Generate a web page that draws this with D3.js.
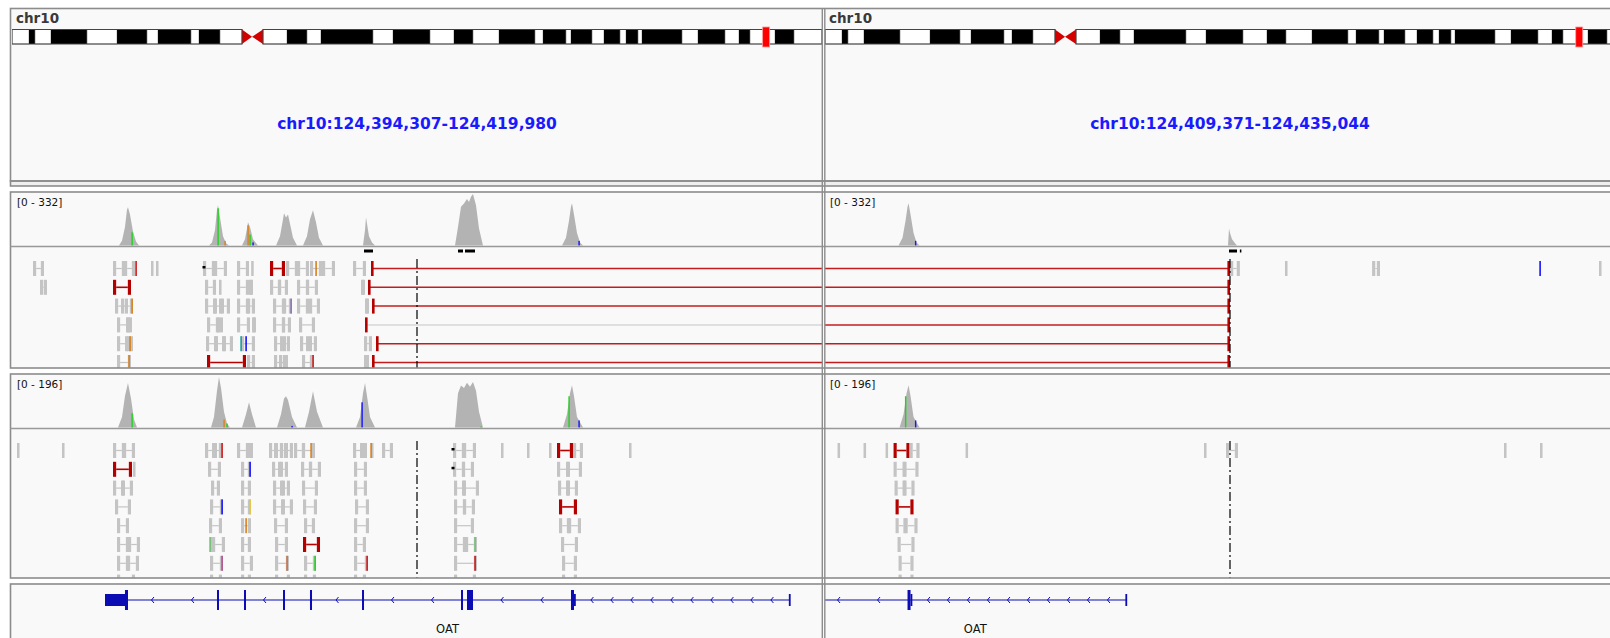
<!DOCTYPE html>
<html>
<head>
<meta charset="utf-8">
<script src="https://cdn.jsdelivr.net/npm/d3@7"></script>
<style>
  html, body { margin: 0; padding: 0; background: #fff; }
  svg { display: block; font-family: "DejaVu Sans", sans-serif; }
</style>
</head>
<body>
<svg id="igv" width="1610" height="638"></svg>
<script>
// all genomic positions below are kb past chr10:124,390,000
const chromName = "chr10";
const chromLengthMb = 133.8;
const locusLabels = ["chr10:124,394,307-124,419,980", "chr10:124,409,371-124,435,044"];
const locusStarts = [4.307, 19.371];
const locusEnds = [29.980, 45.044];

// ideogram bands [startMb, endMb, stain]
const ideoBands = [
  [0, 2.81, "gneg"], [2.81, 3.80, "gpos"], [3.80, 6.44, "gneg"], [6.44, 12.39, "gpos"],
  [12.39, 17.35, "gneg"], [17.35, 22.30, "gpos"], [22.30, 24.12, "gneg"], [24.12, 29.57, "gpos"],
  [29.57, 30.89, "gneg"], [30.89, 34.36, "gpos"], [34.36, 37.99, "gneg"], [37.99, 39.65, "acen"],
  [39.65, 41.46, "acen"], [41.46, 45.43, "gneg"], [45.43, 48.73, "gpos"], [48.73, 51.04, "gneg"],
  [51.04, 59.63, "gpos"], [59.63, 62.94, "gneg"], [62.94, 69.05, "gpos"], [69.05, 73.01, "gneg"],
  [73.01, 76.15, "gpos"], [76.15, 80.45, "gneg"], [80.45, 86.39, "gpos"], [86.39, 87.72, "gneg"],
  [87.72, 91.51, "gpos"], [91.51, 92.34, "gneg"], [92.34, 95.81, "gpos"], [95.81, 97.79, "gneg"],
  [97.79, 100.44, "gpos"], [100.44, 101.43, "gneg"], [101.43, 103.41, "gpos"], [103.41, 104.07, "gneg"],
  [104.07, 110.68, "gpos"], [110.68, 113.32, "gneg"], [113.32, 117.78, "gpos"], [117.78, 120.09, "gneg"],
  [120.09, 121.91, "gpos"], [121.91, 126.04, "gneg"], [126.04, 129.18, "gpos"], [129.18, 133.80, "gneg"]
];

// coverage track 1, range [0 - 332]: [pos, depth]
const coverage1 = [
  [7.722, 0], [7.816, 30], [7.911, 120], [7.974, 230], [8.006, 247], [8.069, 200], [8.164, 90], [8.259, 25], [8.354, 0],
  [10.567, 0], [10.662, 20], [10.757, 100], [10.820, 230], [10.852, 260], [10.915, 180], [11.010, 60], [11.105, 15], [11.199, 0],
  [11.611, 0], [11.705, 40], [11.769, 110], [11.800, 150], [11.863, 120], [11.958, 40], [12.116, 0],
  [12.686, 0], [12.812, 60], [12.907, 170], [12.939, 208], [13.002, 180], [13.065, 200], [13.128, 140], [13.223, 50], [13.349, 0],
  [13.539, 0], [13.665, 60], [13.760, 170], [13.855, 228], [13.950, 150], [14.045, 50], [14.171, 0],
  [15.436, 0], [15.500, 100], [15.531, 182], [15.563, 140], [15.626, 60], [15.721, 20], [15.816, 0],
  [18.345, 0], [18.440, 120], [18.535, 250], [18.630, 270], [18.724, 300], [18.788, 280], [18.851, 315], [18.914, 332], [19.009, 260], [19.104, 110], [19.230, 0],
  [21.728, 0], [21.854, 50], [21.949, 160], [22.012, 250], [22.044, 273], [22.107, 200], [22.202, 80], [22.297, 20], [22.392, 0],
  [32.144, 0], [32.176, 110], [32.208, 80], [32.271, 40], [32.366, 15], [32.429, 0]
];
// coverage track 2, range [0 - 196]
const coverage2 = [
  [7.690, 0], [7.817, 40], [7.911, 120], [8.006, 169], [8.101, 110], [8.196, 30], [8.291, 0],
  [10.630, 0], [10.725, 40], [10.820, 140], [10.883, 192], [10.947, 150], [11.041, 60], [11.136, 15], [11.231, 0],
  [11.611, 0], [11.737, 50], [11.832, 96], [11.927, 50], [12.053, 0],
  [12.717, 0], [12.844, 50], [12.939, 110], [13.002, 119], [13.065, 105], [13.191, 40], [13.349, 0],
  [13.602, 0], [13.729, 60], [13.855, 138], [13.982, 60], [14.171, 0],
  [15.215, 0], [15.342, 40], [15.436, 130], [15.500, 169], [15.563, 120], [15.658, 40], [15.816, 0],
  [18.345, 0], [18.440, 130], [18.535, 160], [18.630, 150], [18.724, 170], [18.819, 155], [18.914, 173], [19.009, 140], [19.104, 60], [19.230, 0],
  [21.760, 0], [21.886, 50], [21.981, 130], [22.044, 161], [22.107, 120], [22.202, 40], [22.392, 0]
];
// coloured allele bars on the coverage: [pos, depth, base]
const alleles1 = [[8.133, 85, "A"], [10.852, 240, "A"], [11.073, 30, "G"], [11.800, 130, "G"], [11.863, 70, "A"], [11.958, 20, "C"], [22.265, 30, "C"]];
const alleles2 = [[8.133, 54, "A"], [11.041, 30, "G"], [11.136, 15, "A"], [13.191, 6, "C"], [15.405, 96, "C"], [19.167, 4, "A"], [21.949, 119, "A"], [22.265, 27, "C"]];

// read pairs [row, start, end, kind]  n = normal, r = large insert
const pairs1 = [
  [0, 5.003, 5.350, "n"], [0, 7.532, 7.911, "n"], [0, 7.880, 8.228, "n"], [0, 10.377, 10.757, "n"], [0, 10.725, 11.136, "n"],
  [0, 11.452, 11.832, "n"], [0, 12.496, 12.970, "r"], [0, 13.002, 13.381, "n"], [0, 13.349, 13.729, "n"], [0, 13.760, 14.140, "n"],
  [0, 14.140, 14.551, "n"], [0, 15.120, 15.531, "n"], [0, 32.210, 32.520, "n"], [0, 36.700, 36.950, "n"],
  [1, 5.224, 5.445, "n"], [1, 7.532, 8.101, "r"], [1, 10.441, 10.789, "n"], [1, 11.452, 11.832, "n"], [1, 11.832, 11.958, "n"],
  [1, 12.496, 12.844, "n"], [1, 12.749, 13.065, "n"], [1, 13.349, 13.729, "n"], [1, 13.634, 14.013, "n"], [1, 15.373, 15.500, "n"],
  [2, 7.595, 8.006, "n"], [2, 7.785, 8.164, "n"], [2, 10.441, 10.820, "n"], [2, 10.694, 11.041, "n"], [2, 10.883, 11.231, "n"],
  [2, 11.452, 11.832, "n"], [2, 11.769, 12.022, "n"], [2, 12.590, 12.970, "n"], [2, 12.907, 13.191, "n"], [2, 13.349, 13.729, "n"],
  [2, 13.729, 14.077, "n"], [2, 15.500, 15.626, "n"],
  [3, 7.658, 8.069, "n"], [3, 7.943, 8.133, "n"], [3, 10.504, 10.883, "n"], [3, 10.820, 11.010, "n"], [3, 11.452, 11.863, "n"],
  [3, 11.927, 12.053, "n"], [3, 12.590, 12.970, "n"], [3, 12.876, 13.160, "n"], [3, 13.413, 13.919, "n"],
  [4, 7.658, 8.069, "n"], [4, 7.911, 8.164, "n"], [4, 10.472, 10.852, "n"], [4, 10.725, 11.105, "n"], [4, 10.978, 11.326, "n"],
  [4, 11.579, 12.022, "n"], [4, 12.622, 13.002, "n"], [4, 12.812, 13.128, "n"], [4, 13.444, 13.824, "n"], [4, 13.634, 13.982, "n"],
  [4, 15.468, 15.721, "n"],
  [5, 7.658, 8.101, "n"], [5, 10.504, 11.737, "r"], [5, 11.769, 12.022, "n"], [5, 12.622, 13.002, "n"], [5, 12.780, 13.065, "n"],
  [5, 13.507, 13.855, "n"], [5, 15.468, 15.626, "n"]
];
const singles1 = [[0, 8.733], [0, 8.891], [0, 11.900], [0, 33.946], [0, 43.874], [1, 10.883]];
const mismatches1 = [[0, 8.259, "T"], [0, 13.950, "G"], [0, 42.009, "C"], [2, 8.133, "G"], [2, 13.160, "p"],
  [4, 8.069, "G"], [4, 11.579, "x"], [4, 11.737, "C"], [5, 8.038, "G"], [5, 13.855, "T"]];
const insertions1 = [[0, 10.409]];
// split reads [row, from, to, faint line in left panel]
const splits1 = [[0, 15.689, 32.208, 0], [1, 15.594, 32.208, 0], [2, 15.721, 32.208, 0],
  [3, 15.500, 32.208, 1], [4, 15.847, 32.208, 0], [5, 15.721, 32.208, 0]];
const downsampled1 = [[15.468, 15.752], [18.440, 18.598], [18.661, 18.977], [32.176, 32.429], [32.520, 32.550]];

const pairs2 = [
  [0, 7.532, 7.911, "n"], [0, 7.848, 8.228, "n"], [0, 10.441, 10.820, "n"], [0, 10.662, 10.978, "n"], [0, 11.452, 11.832, "n"],
  [0, 11.832, 11.958, "n"], [0, 12.464, 12.749, "n"], [0, 12.622, 12.907, "n"], [0, 12.812, 13.065, "n"], [0, 12.939, 13.223, "n"],
  [0, 13.255, 13.602, "n"], [0, 13.507, 13.919, "n"], [0, 15.120, 15.500, "n"], [0, 15.342, 15.563, "n"], [0, 16.037, 16.385, "n"],
  [0, 18.282, 18.661, "n"], [0, 18.598, 19.009, "n"], [0, 21.570, 22.076, "r"], [0, 22.076, 22.392, "n"], [0, 32.081, 32.460, "n"],
  [1, 7.532, 8.133, "r"], [1, 10.536, 10.947, "n"], [1, 11.579, 11.895, "n"], [1, 12.559, 12.907, "n"], [1, 12.749, 13.065, "n"],
  [1, 13.476, 13.824, "n"], [1, 13.729, 14.108, "n"], [1, 15.152, 15.563, "n"], [1, 18.282, 18.661, "n"], [1, 18.566, 18.946, "n"],
  [1, 21.570, 21.981, "n"], [1, 21.854, 22.360, "n"],
  [2, 7.532, 7.911, "n"], [2, 7.785, 8.164, "n"], [2, 10.630, 10.915, "n"], [2, 11.579, 11.895, "n"], [2, 12.590, 12.970, "n"],
  [2, 12.812, 13.128, "n"], [2, 13.507, 14.013, "n"], [2, 15.152, 15.563, "n"], [2, 18.313, 18.693, "n"], [2, 18.566, 19.104, "n"],
  [2, 21.601, 21.981, "n"], [2, 21.854, 22.234, "n"],
  [3, 7.595, 8.101, "n"], [3, 10.599, 11.010, "n"], [3, 11.579, 11.895, "n"], [3, 12.590, 12.970, "n"], [3, 12.844, 13.223, "n"],
  [3, 13.539, 13.982, "n"], [3, 15.183, 15.626, "n"], [3, 18.313, 18.693, "n"], [3, 18.598, 18.977, "n"], [3, 21.633, 22.202, "r"],
  [4, 7.658, 8.038, "n"], [4, 10.567, 10.978, "n"], [4, 11.579, 11.895, "n"], [4, 12.622, 13.065, "n"], [4, 13.571, 13.919, "n"],
  [4, 15.152, 15.626, "n"], [4, 18.313, 18.946, "n"], [4, 21.633, 21.981, "n"], [4, 21.918, 22.329, "n"],
  [5, 7.658, 8.038, "n"], [5, 8.006, 8.385, "n"], [5, 10.662, 11.073, "n"], [5, 11.579, 11.895, "n"], [5, 12.654, 13.065, "n"],
  [5, 13.539, 14.077, "r"], [5, 15.152, 15.531, "n"], [5, 18.313, 18.693, "n"], [5, 18.661, 19.041, "n"], [5, 21.696, 22.234, "n"],
  [6, 7.658, 8.038, "n"], [6, 7.974, 8.354, "n"], [6, 10.599, 11.010, "n"], [6, 11.579, 11.958, "n"], [6, 12.654, 13.097, "n"],
  [6, 13.571, 13.950, "n"], [6, 15.152, 15.594, "n"], [6, 18.313, 19.041, "n"], [6, 21.728, 22.202, "n"],
  [7, 7.658, 8.228, "n"], [7, 10.599, 10.978, "n"], [7, 11.579, 11.895, "n"], [7, 12.654, 13.128, "n"], [7, 13.571, 13.950, "n"],
  [7, 15.152, 15.531, "n"], [7, 18.313, 19.009, "n"], [7, 21.728, 22.202, "n"]
];
const singles2 = [[0, 4.497], [0, 5.919], [0, 15.689], [0, 19.799], [0, 20.621], [0, 21.317], [0, 23.846], [0, 31.385],
  [0, 40.871], [0, 42.009], [1, 8.164], [5, 10.599]];
const mismatches2 = [[0, 10.978, "T"], [0, 13.792, "G"], [0, 15.689, "G"], [1, 11.863, "C"], [3, 10.978, "C"], [3, 11.863, "y"],
  [4, 11.737, "G"], [5, 10.599, "g"], [5, 18.977, "g"], [6, 10.978, "m"], [6, 13.033, "b"], [6, 13.919, "A"],
  [6, 15.563, "T"], [6, 18.977, "T"]];
const insertions2 = [[0, 18.282], [1, 18.282]];

// OAT gene (minus strand): exons [start, end, part]
const geneName = "OAT";
const geneStart = 7.279, geneEnd = 28.937;
const geneExons = [
  [7.279, 7.911, "utr"], [7.911, 8.006, "cds"], [10.820, 10.883, "cds"], [11.674, 11.737, "cds"], [12.907, 12.970, "cds"],
  [13.760, 13.824, "cds"], [15.405, 15.468, "cds"], [18.535, 18.598, "cds"], [18.724, 18.914, "cds"], [22.012, 22.107, "cds"],
  [22.107, 22.139, "utr"], [28.900, 28.937, "utr"]
];

const baseColors = { A: "#1ed31e", C: "#1414ff", G: "#d9801a", T: "#d01818", x: "#1a9c9c", p: "#8a72b2",
  m: "#b4508c", y: "#e6c640", b: "#c4744c", g: "#72c274" };

const W = 1610, H = 638;
const panelX = [11, 824], panelW = 812;
const border = "#8c8c8c", panelBg = "#f9f9f9";
const readGray = "#c4c4c4", covGray = "#b3b3b3", pairRed = "#b50000", splitRed = "#c41c1c", geneBlue = "#0c0cb4";
const RL = 0.1; // read length, kb
const rowStep = 18.8, rowH = 15;

const tracks = [
  { top: 192, covBottom: 247, bottom: 368, max: 332, cov: coverage1, alleles: alleles1, pairs: pairs1, singles: singles1,
    mismatches: mismatches1, insertions: insertions1, splits: splits1, downsampled: downsampled1 },
  { top: 374, covBottom: 429, bottom: 578, max: 196, cov: coverage2, alleles: alleles2, pairs: pairs2, singles: singles2,
    mismatches: mismatches2, insertions: insertions2, splits: [], downsampled: [] }
];

const svg = d3.select("#igv");
svg.append("rect").attr("width", W).attr("height", H).attr("fill", "#fff");

// panel backgrounds
const sections = [[8.5, 181], [181, 186], [192, 368], [374, 578], [584, 660]];
svg.selectAll("rect.sec").data(sections).join("rect").attr("class", "sec")
  .attr("x", 10.5).attr("y", d => d[0]).attr("width", W).attr("height", d => d[1] - d[0])
  .attr("fill", (d, i) => i === 1 ? "#efefef" : panelBg);

const defs = svg.append("defs");
panelX.forEach((px, i) => {
  defs.append("clipPath").attr("id", "clip" + i).append("rect")
    .attr("x", px + 1).attr("y", 0).attr("width", panelW - 2).attr("height", H);
  tracks.forEach((t, ti) => {
    defs.append("clipPath").attr("id", `tclip${i}_${ti}`).append("rect")
      .attr("x", px + 1).attr("y", t.top).attr("width", panelW - 2).attr("height", t.bottom - t.top);
  });
});

const xs = locusStarts.map((s, i) => d3.scaleLinear().domain([s, locusEnds[i]]).range([panelX[i], panelX[i] + panelW]));

function drawPanel(p) {
  const x = xs[p];
  const g = svg.append("g").attr("clip-path", `url(#clip${p})`);
  const cx = panelX[p] + panelW / 2;

  // header: chromosome name, ideogram, locus
  g.append("text").attr("x", panelX[p] + 5).attr("y", 23).attr("font-size", 13.5).attr("font-weight", "bold")
    .attr("fill", "#3a3a3a").text(chromName);

  const ix = d3.scaleLinear().domain([0, chromLengthMb]).range([panelX[p] + 1, panelX[p] + panelW - 1]);
  const iy0 = 29.5, iy1 = 44, iym = (iy0 + iy1) / 2;
  const ideo = g.append("g");
  ideo.selectAll("rect").data(ideoBands.filter(b => b[2] !== "acen")).join("rect")
    .attr("x", d => ix(d[0])).attr("y", iy0).attr("width", d => ix(d[1]) - ix(d[0])).attr("height", iy1 - iy0)
    .attr("fill", d => d[2] === "gpos" ? "#000" : "#fff")
    .attr("stroke", d => d[2] === "gpos" ? "none" : "#777").attr("stroke-width", 0.6);
  const acen = ideoBands.filter(b => b[2] === "acen");
  ideo.append("path").attr("fill", "#d40000")
    .attr("d", `M${ix(acen[0][0])},${iy0} L${ix(acen[0][1])},${iym} L${ix(acen[0][0])},${iy1} Z` +
               `M${ix(acen[1][1])},${iy0} L${ix(acen[1][0])},${iym} L${ix(acen[1][1])},${iy1} Z`);
  [[0, acen[0][0]], [acen[1][1], chromLengthMb]].forEach(arm => {
    ideo.append("rect").attr("x", ix(arm[0])).attr("y", iy0).attr("width", ix(arm[1]) - ix(arm[0]))
      .attr("height", iy1 - iy0).attr("fill", "none").attr("stroke", "#444").attr("stroke-width", 1);
  });
  const locMb = 124.39 + (locusStarts[p] + locusEnds[p]) / 2000;
  ideo.append("rect").attr("x", ix(locMb) - 2.5).attr("y", 27).attr("width", 7).attr("height", 20)
    .attr("fill", "#ff0000").attr("stroke", "#ff9a9a").attr("stroke-width", 0.8);

  g.append("text").attr("x", cx).attr("y", 129).attr("text-anchor", "middle").attr("font-size", 15.5)
    .attr("font-weight", "bold").attr("fill", "#1a1aff").text(locusLabels[p]);

  // alignment tracks
  tracks.forEach((t, ti) => {
    const tg = g.append("g").attr("clip-path", `url(#tclip${p}_${ti})`);
    const y = d3.scaleLinear().domain([0, t.max]).range([t.covBottom - 1.5, t.top + 2]);
    tg.append("path").datum(t.cov).attr("fill", covGray)
      .attr("d", d3.area().x(d => x(d[0])).y0(y(0)).y1(d => y(d[1])));
    tg.selectAll(null).data(t.alleles).join("rect")
      .attr("x", d => x(d[0]) - 0.6).attr("width", 1.4).attr("y", d => y(d[1])).attr("height", d => y(0) - y(d[1]))
      .attr("fill", d => baseColors[d[2]]);
    tg.append("text").attr("x", panelX[p] + 6).attr("y", t.top + 14).attr("font-size", 10.5).attr("fill", "#111")
      .text(`[0 - ${t.max}]`);

    const rowTop = r => t.covBottom + 14 + rowStep * r;
    const rh = rowH;
    const rw = Math.max(2.6, x(RL) - x(0));

    tg.selectAll(null).data(t.downsampled).join("rect")
      .attr("x", d => x(d[0])).attr("width", d => Math.max(1.5, x(d[1]) - x(d[0])))
      .attr("y", t.covBottom + 2.5).attr("height", 3).attr("fill", "#000");

    // read pairs
    const pg = tg.append("g");
    t.pairs.forEach(d => {
      const col = d[3] === "r" ? pairRed : readGray;
      const a = x(d[1]), b = x(d[2]) - rw, ry = rowTop(d[0]);
      pg.append("line").attr("x1", a + rw).attr("x2", b).attr("y1", ry + rh / 2).attr("y2", ry + rh / 2)
        .attr("stroke", col).attr("stroke-width", d[3] === "r" ? 1.6 : 1.2);
      pg.append("rect").attr("x", a).attr("y", ry).attr("width", rw).attr("height", rh).attr("fill", col);
      pg.append("rect").attr("x", b).attr("y", ry).attr("width", rw).attr("height", rh).attr("fill", col);
    });
    pg.selectAll(null).data(t.singles).join("rect")
      .attr("x", d => x(d[1])).attr("y", d => rowTop(d[0])).attr("width", rw * 0.8).attr("height", rh)
      .attr("fill", readGray);

    // split reads linked across the panels
    t.splits.forEach(d => {
      const ry = rowTop(d[0]);
      pg.append("line").attr("x1", x(d[1])).attr("x2", x(d[2])).attr("y1", ry + rh / 2).attr("y2", ry + rh / 2)
        .attr("stroke", d[3] && p === 0 ? "#d6d6d6" : splitRed).attr("stroke-width", 1.5);
      pg.append("rect").attr("x", x(d[1])).attr("y", ry).attr("width", 2.6).attr("height", rh).attr("fill", pairRed);
      pg.append("rect").attr("x", x(d[2]) - 2.6).attr("y", ry).attr("width", 2.6).attr("height", rh).attr("fill", pairRed);
    });

    pg.selectAll(null).data(t.mismatches).join("rect")
      .attr("x", d => x(d[1]) - 0.7).attr("y", d => rowTop(d[0])).attr("width", 1.6).attr("height", rh)
      .attr("fill", d => baseColors[d[2]]);
    pg.selectAll(null).data(t.insertions).join("rect")
      .attr("x", d => x(d[1]) - 1.5).attr("y", d => rowTop(d[0]) + 5).attr("width", 3).attr("height", 2.5)
      .attr("fill", "#000");

    // centre line
    tg.append("line").attr("x1", cx).attr("x2", cx).attr("y1", t.covBottom + 12).attr("y2", t.bottom)
      .attr("stroke", "#000").attr("stroke-width", 1.2).attr("stroke-dasharray", "9,3,2,3");
  });

  // gene track
  const gy = 600;
  g.append("line").attr("x1", x(geneStart)).attr("x2", x(geneEnd)).attr("y1", gy).attr("y2", gy)
    .attr("stroke", geneBlue).attr("stroke-width", 1.2);
  const sx = geneExons.map(e => [x(e[0]), x(e[1])]);
  const introns = [];
  for (let i = 1; i < sx.length; i++) if (sx[i][0] - sx[i - 1][1] > 2) introns.push([sx[i - 1][1], sx[i][0]]);
  const arrows = [];
  introns.forEach(([a, b]) => {
    const w = b - a, step = w > 150 ? 20 : 40, n = Math.floor(w / step + 0.1);
    for (let k = 0; k < n; k++) arrows.push((a + b) / 2 + (k - (n - 1) / 2) * step);
  });
  g.selectAll(null).data(arrows).join("path").attr("fill", "none").attr("stroke", geneBlue).attr("stroke-width", 1)
    .attr("d", a => `M${a + 1.5},${gy - 3} L${a - 1},${gy} L${a + 1.5},${gy + 3}`);
  g.selectAll(null).data(geneExons).join("rect")
    .attr("x", d => x(d[0])).attr("width", d => Math.max(1.8, x(d[1]) - x(d[0])))
    .attr("y", d => d[2] === "cds" ? gy - 10 : gy - 6).attr("height", d => d[2] === "cds" ? 20 : 12)
    .attr("fill", geneBlue);
  const vis = [Math.max(x(geneStart), panelX[p]), Math.min(x(geneEnd), panelX[p] + panelW)];
  g.append("text").attr("x", (vis[0] + vis[1]) / 2).attr("y", 633).attr("text-anchor", "middle")
    .attr("font-size", 11.5).attr("fill", "#111").text(geneName);
}

drawPanel(0);
drawPanel(1);

// borders drawn on top
svg.selectAll("rect.frame").data(sections).join("rect").attr("class", "frame")
  .attr("x", 10.5).attr("y", d => d[0]).attr("width", W).attr("height", d => d[1] - d[0])
  .attr("fill", "none").attr("stroke", border).attr("stroke-width", 1.6);
tracks.forEach(t => {
  svg.append("line").attr("x1", 10.5).attr("x2", W).attr("y1", t.covBottom - 0.5).attr("y2", t.covBottom - 0.5)
    .attr("stroke", "#999").attr("stroke-width", 1.4);
});
[822.3, 824.8].forEach(v => {
  svg.append("line").attr("x1", v).attr("x2", v).attr("y1", 8).attr("y2", H)
    .attr("stroke", border).attr("stroke-width", 1.4);
});
</script>
</body>
</html>
